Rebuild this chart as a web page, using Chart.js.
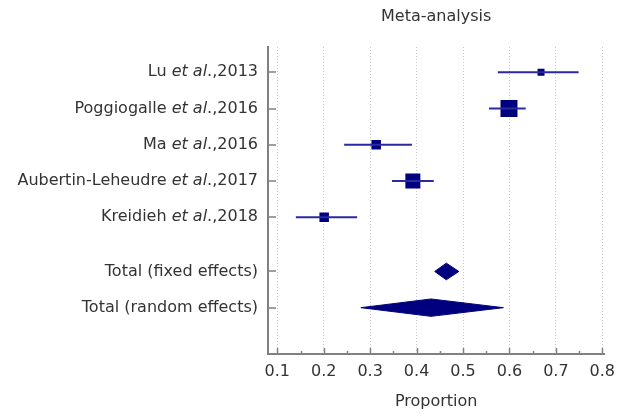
<!DOCTYPE html>
<html><head><meta charset="utf-8">
<script src="https://cdn.jsdelivr.net/npm/chart.js@4"></script>
<style>html,body{margin:0;padding:0;background:#fff}#wrap{width:617px;height:417px;position:relative}</style>
</head><body><div id="wrap"><canvas id="c" width="617" height="417"></canvas></div>
<script>
// ---- data ----
const studyNames = ['Lu', 'Poggiogalle', 'Ma', 'Aubertin-Leheudre', 'Kreidieh'];
const studyYears = ['2013', '2016', '2016', '2017', '2018'];
const estimates = [0.668, 0.599, 0.313, 0.392, 0.201];
const ciLow = [0.575, 0.556, 0.244, 0.347, 0.140];
const ciHigh = [0.749, 0.635, 0.390, 0.437, 0.272];
const totalLabels = ['Total (fixed effects)', 'Total (random effects)'];
const totalEst = [0.464, 0.431];
const totalLow = [0.439, 0.280];
const totalHigh = [0.491, 0.587];
const xTickValues = [0.1, 0.2, 0.3, 0.4, 0.5, 0.6, 0.7, 0.8];
const titleText = 'Meta-analysis';
const xTitleText = 'Proportion';

// ---- layout / style ----
const studyRows = [0, 1, 2, 3, 4];
const totalRows = [5.5, 6.5];
const markerSide = [7, 17, 9.5, 15, 9.5];
const diamondHalf = [0.23, 0.24];
const NAVY = '#00007f';
const CI_COLOR = '#2a2aa0';
const AXIS = '#808080';
const TXT = '#333';
const FONT = "'DejaVu Sans', Verdana, sans-serif";

const datasets = [];
studyNames.forEach((n, i) => {
  datasets.push({
    type: 'line', data: [{x: ciLow[i], y: studyRows[i]}, {x: ciHigh[i], y: studyRows[i]}],
    borderColor: CI_COLOR, borderWidth: 2, pointRadius: 0, fill: false
  });
});
datasets.push({
  type: 'scatter',
  data: estimates.map((v, i) => ({x: v, y: studyRows[i]})),
  pointStyle: 'rect',
  pointRadius: markerSide.map(s => s / Math.SQRT2),
  pointHoverRadius: markerSide.map(s => s / Math.SQRT2),
  backgroundColor: NAVY, borderColor: NAVY, borderWidth: 0
});
totalLabels.forEach((n, i) => {
  const r = totalRows[i], h = diamondHalf[i];
  datasets.push({
    type: 'line',
    data: [{x: totalLow[i], y: r}, {x: totalEst[i], y: r - h}, {x: totalHigh[i], y: r}, {x: totalEst[i], y: r + h}, {x: totalLow[i], y: r}],
    borderColor: NAVY, backgroundColor: NAVY, borderWidth: 1, pointRadius: 0, fill: 'shape', tension: 0
  });
});

const minorTicks = [];
xTickValues.forEach((v, i) => {
  minorTicks.push(v);
  if (i < xTickValues.length - 1) minorTicks.push(Math.round((v + 0.05) * 100) / 100);
});
const isMajor = v => xTickValues.some(t => Math.abs(t - v) < 1e-9);

const decorPlugin = {
  id: 'decor',
  afterDraw(chart) {
    const ctx = chart.ctx, ys = chart.scales.y, xs = chart.scales.x, ca = chart.chartArea;
    ctx.save();
    // inner tick marks
    ctx.strokeStyle = AXIS;
    ctx.lineWidth = 1.5;
    ctx.beginPath();
    xs.ticks.forEach(t => {
      const px = Math.round(xs.getPixelForValue(t.value)) + 0.5;
      const len = isMajor(t.value) ? 6 : 3;
      ctx.moveTo(px, ca.bottom); ctx.lineTo(px, ca.bottom - len);
    });
    ys.ticks.forEach(t => {
      const py = Math.round(ys.getPixelForValue(t.value));
      ctx.moveTo(ca.left, py); ctx.lineTo(ca.left + 8, py);
    });
    ctx.stroke();
    // title over plot area
    ctx.fillStyle = TXT;
    ctx.font = '16px ' + FONT;
    ctx.textAlign = 'center';
    ctx.textBaseline = 'middle';
    ctx.fillText(titleText, (ca.left + ca.right) / 2, 17);
    // y labels
    ctx.textAlign = 'left';
    const xr = ca.left - 10;
    const drawSegs = (segs, y) => {
      let w = 0;
      segs.forEach(s => { ctx.font = (s[1] ? 'italic ' : '') + '16px ' + FONT; s.w = ctx.measureText(s[0]).width; w += s.w; });
      let x = xr - w;
      segs.forEach(s => { ctx.font = (s[1] ? 'italic ' : '') + '16px ' + FONT; ctx.fillText(s[0], x, y); x += s.w; });
    };
    studyNames.forEach((n, i) => {
      drawSegs([[n + ' ', false], ['et al', true], ['.,' + studyYears[i], false]], ys.getPixelForValue(studyRows[i]));
    });
    totalLabels.forEach((n, i) => drawSegs([[n, false]], ys.getPixelForValue(totalRows[i])));
    ctx.restore();
  }
};

new Chart(document.getElementById('c'), {
  type: 'scatter',
  data: {datasets},
  plugins: [decorPlugin],
  options: {
    responsive: false, animation: false, devicePixelRatio: 1,
    layout: {padding: {left: 0, right: 12.6, top: 47, bottom: 0}},
    plugins: {legend: {display: false}, tooltip: {enabled: false}, title: {display: false}},
    scales: {
      x: {
        type: 'linear', min: 0.08, max: 0.8045,
        afterBuildTicks: s => { s.ticks = minorTicks.map(v => ({value: v})); },
        afterFit: s => { s.height = 63; s.paddingLeft = 0; s.paddingRight = 0; },
        ticks: {autoSkip: false, maxRotation: 0, color: TXT, padding: 8, font: {family: FONT, size: 16},
          callback: v => isMajor(v) ? v.toFixed(1) : ''},
        grid: {color: c => isMajor(c.tick.value) ? '#c8c8c8' : 'rgba(0,0,0,0)', drawTicks: false, lineWidth: 1},
        border: {display: true, color: AXIS, width: 2, dash: [1, 2]},
        title: {display: true, text: xTitleText, color: TXT, font: {family: FONT, size: 16}, padding: {top: 4, bottom: 6}}
      },
      y: {
        type: 'linear', reverse: true, min: -0.7, max: 7.78,
        afterBuildTicks: s => { s.ticks = studyRows.concat(totalRows).map(v => ({value: v})); },
        afterFit: s => { s.width = 268; },
        ticks: {display: false},
        grid: {drawOnChartArea: false, drawTicks: false},
        border: {display: true, color: AXIS, width: 2}
      }
    }
  }
});
</script>
</body></html>
